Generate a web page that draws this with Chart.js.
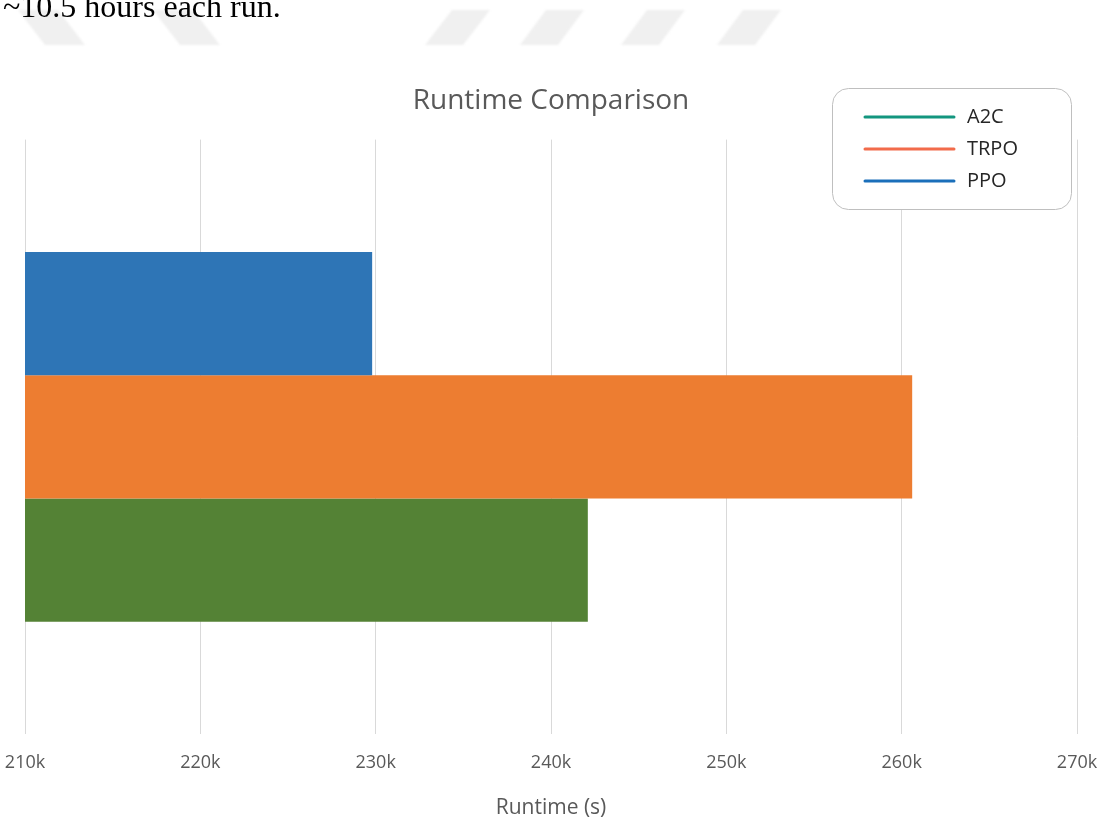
<!DOCTYPE html>
<html>
<head>
<meta charset="utf-8">
<script src="https://cdn.jsdelivr.net/npm/chart.js@4/dist/chart.umd.min.js"></script>
<style>
  html, body { margin: 0; padding: 0; background: #ffffff; overflow: hidden; }
  #wrap { position: relative; width: 1114px; height: 821px; }
  #chart { position: absolute; left: 0; top: 0; }
  #note { position: absolute; left: 3px; top: -13px; font-family: "Liberation Serif", "Times New Roman", serif; font-size: 32px; line-height: 38px; color: #000; white-space: nowrap; }
</style>
</head>
<body>
<div id="wrap">
  <canvas id="chart" width="1114" height="821"></canvas>
  <div id="note">~10.5 hours each run.</div>
</div>
<script>
// ---- data ----
const categories = [''];
const seriesNames = ['PPO', 'TRPO', 'A2C'];
const ppoValues = [229800];
const trpoValues = [260600];
const a2cValues = [242100];
const barColors = ['#2e75b6', '#ed7d31', '#548235'];
const legendColors = ['#1a6fba', '#f26b4a', '#13967f'];
const xTickValues = [210000, 220000, 230000, 240000, 250000, 260000, 270000];

const seriesValues = [ppoValues, trpoValues, a2cValues];

// faint decorative page shapes behind the note
const pageDecor = {
  id: 'pageDecor',
  beforeDraw(chart) {
    const ctx = chart.ctx;
    ctx.save();
    ctx.fillStyle = '#f0f0f0';
    ctx.filter = 'blur(1px)';
    const right = [[452, 425], [546, 520], [647, 621], [743, 717]];
    right.forEach(([t, b]) => {
      ctx.beginPath();
      ctx.moveTo(t, 10); ctx.lineTo(t + 38, 10);
      ctx.lineTo(b + 38, 45); ctx.lineTo(b, 45); ctx.closePath(); ctx.fill();
    });
    const left = [[18, 45], [153, 180]];
    left.forEach(([t, b]) => {
      ctx.beginPath();
      ctx.moveTo(t, 10); ctx.lineTo(t + 40, 10);
      ctx.lineTo(b + 40, 45); ctx.lineTo(b, 45); ctx.closePath(); ctx.fill();
    });
    ctx.restore();
  }
};

// boxed legend with line samples (order A2C, TRPO, PPO)
const boxLegend = {
  id: 'boxLegend',
  afterDraw(chart) {
    const ctx = chart.ctx;
    const x = 832, y = 88, w = 239, h = 121, r = 16;
    ctx.save();
    ctx.beginPath();
    ctx.roundRect(x + 0.5, y + 0.5, w, h, r);
    ctx.fillStyle = '#ffffff';
    ctx.fill();
    ctx.strokeStyle = '#bfbfbf';
    ctx.lineWidth = 1;
    ctx.stroke();
    const order = [2, 1, 0];
    ctx.font = '20px "Open Sans"';
    ctx.textBaseline = 'middle';
    order.forEach((di, k) => {
      const ly = 117 + k * 32;
      ctx.strokeStyle = legendColors[di];
      ctx.lineWidth = 3;
      ctx.lineCap = 'round';
      ctx.beginPath();
      ctx.moveTo(865, ly); ctx.lineTo(954, ly); ctx.stroke();
      ctx.fillStyle = '#262626';
      ctx.fillText(chart.data.datasets[di].label, 967, ly);
    });
    ctx.restore();
  }
};

new Chart(document.getElementById('chart'), {
  type: 'bar',
  data: {
    labels: categories,
    datasets: seriesNames.map((name, i) => ({
      label: name,
      data: seriesValues[i],
      backgroundColor: barColors[i],
      borderWidth: 0,
      barPercentage: 1.0,
      categoryPercentage: 0.622
    }))
  },
  options: {
    indexAxis: 'y',
    responsive: false,
    animation: false,
    layout: { padding: { left: 25, right: 37, top: 0, bottom: 0 } },
    plugins: {
      legend: { display: false },
      tooltip: { enabled: false },
      title: {
        display: true,
        text: 'Runtime Comparison',
        color: '#595959',
        font: { family: 'Open Sans', size: 28, weight: 'normal' },
        padding: { top: 84, bottom: 22 }
      }
    },
    scales: {
      x: {
        type: 'linear',
        min: 210000,
        max: 270000,
        afterBuildTicks(scale) { scale.ticks = xTickValues.map(v => ({ value: v })); },
        afterFit(scale) { scale.paddingLeft = 0; scale.paddingRight = 0; },
        grid: { color: '#d9d9d9', lineWidth: 1, drawTicks: false },
        border: { display: false },
        ticks: {
          color: '#595959',
          font: { family: 'Open Sans', size: 18 },
          padding: 18,
          maxRotation: 0,
          callback: v => (v / 1000) + 'k'
        },
        title: {
          display: true,
          text: 'Runtime (s)',
          color: '#595959',
          font: { family: 'Open Sans', size: 21 },
          padding: { top: 4, bottom: 0 }
        }
      },
      y: {
        display: false,
        grid: { display: false }
      }
    }
  },
  plugins: [pageDecor, boxLegend]
});
</script>
</body>
</html>
